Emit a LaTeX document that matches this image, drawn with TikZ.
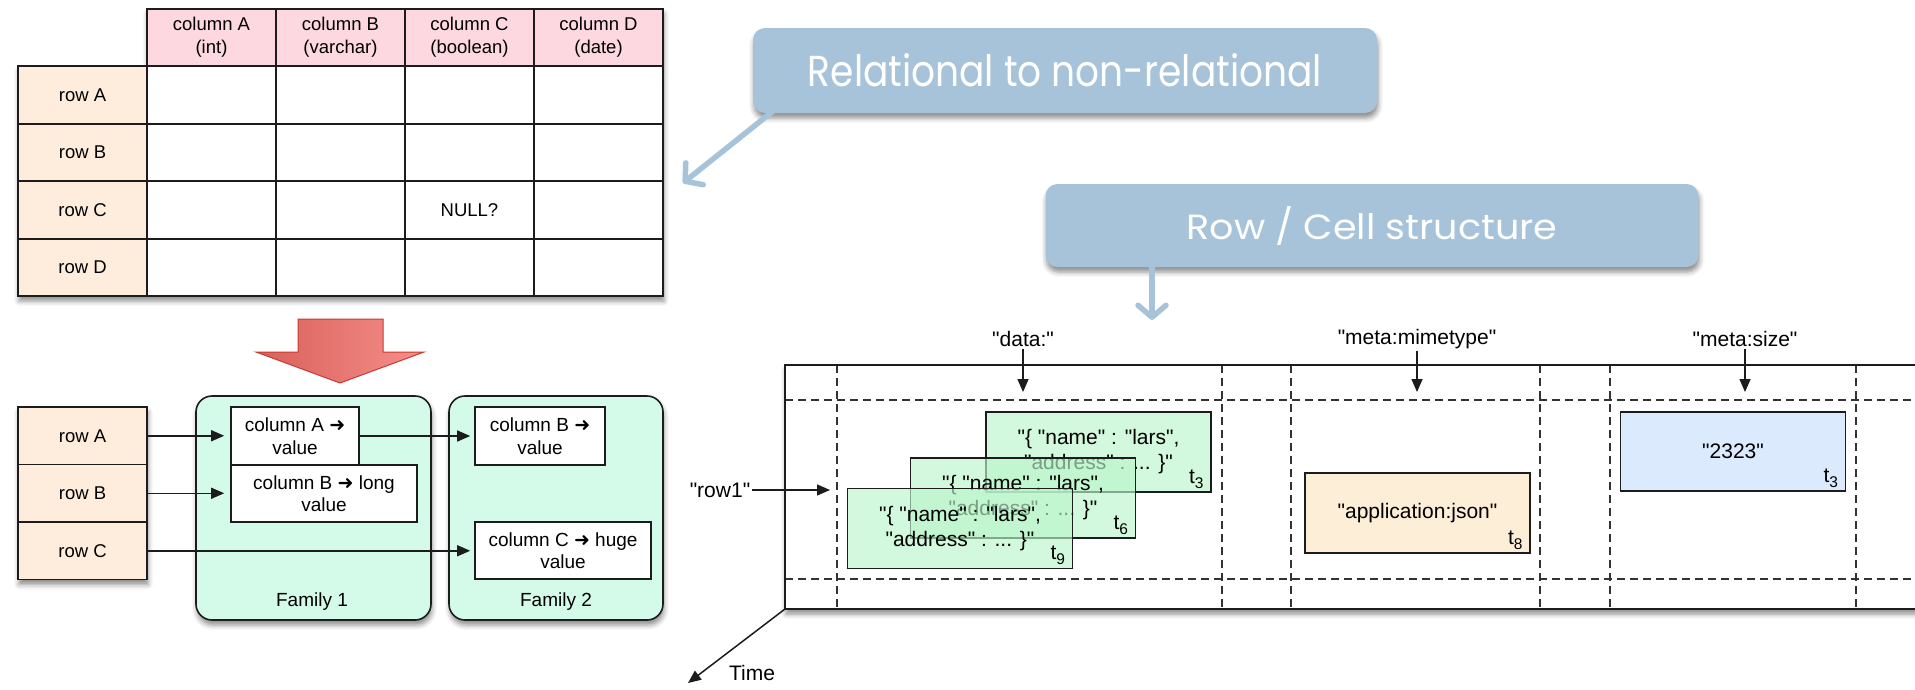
\documentclass[tikz,border=0pt]{standalone}
\usepackage{fontspec}
\setmainfont{Liberation Sans}
% a family without the TeX mapping keeps " as a straight quote
\newfontfamily\basefont{Liberation Sans}
\newfontfamily\titlefont{Poppins}
\newfontfamily\symfont{DejaVu Sans}
\usetikzlibrary{arrows.meta,shadows.blur,calc}

\definecolor{ink}{RGB}{28,28,28}
\definecolor{hdrpink}{RGB}{253,216,224}
\definecolor{rowpeach}{RGB}{254,237,220}
\definecolor{mint}{RGB}{212,251,233}
\definecolor{titleblue}{RGB}{166,195,218}
\definecolor{cardgreen}{RGB}{186,245,203}
\definecolor{jsonpeach}{RGB}{253,238,216}
\definecolor{sizeblue}{RGB}{219,234,252}
\definecolor{redL}{RGB}{216,96,90}
\definecolor{redR}{RGB}{246,142,138}
\definecolor{redE}{RGB}{200,58,48}

\newcommand{\tablefont}{\basefont\fontsize{18.5}{23}\selectfont}
\newcommand{\famfont}{\basefont\fontsize{19}{22.5}\selectfont}
\newcommand{\cellfont}{\basefont\fontsize{21}{25}\selectfont}
\newcommand{\subfont}{\basefont\fontsize{15.5}{15.5}\selectfont}
\newcommand{\maps}{{\symfont\bfseries ➜}}
\newcommand{\tsub}[1]{t\raisebox{-0.45ex}{\subfont #1}}
\newcommand{\json}{"\{ "name" : "lars",\\"address" : ... \}"}

\tikzset{
  softshadow/.style={blur shadow={shadow xshift=1pt, shadow yshift=-5pt,
      shadow blur radius=5pt, shadow opacity=45}},
  cellbase/.style={draw=ink, line width=1.6pt, inner sep=0pt, align=center,
      font=\tablefont},
  hdrcell/.style={cellbase, fill=hdrpink, minimum width=129pt, minimum height=57pt},
  rowcell/.style={cellbase, fill=rowpeach, minimum width=129pt, minimum height=57.5pt},
  bodycell/.style={cellbase, fill=white, minimum width=129pt, minimum height=57.5pt},
  family/.style={draw=ink, line width=1.6pt, fill=mint, rounded corners=16pt,
      softshadow, inner sep=0pt},
  kvbox/.style={draw=ink, line width=1.6pt, fill=white, inner sep=0pt,
      align=center, font=\famfont},
  ptr/.style={draw=ink, line width=1.5pt, -{Triangle[length=13pt,width=11pt]}},
  titlebox/.style={fill=titleblue, rounded corners=12pt, text=white,
      inner sep=0pt, softshadow},
  titlearrow/.style={draw=titleblue, line width=5.5pt, line cap=round,
      -{Straight Barb[length=12pt,width=28pt,line cap=round,line join=round]}},
  frameline/.style={draw=ink, line width=1.8pt},
  dashline/.style={draw=ink!90, line width=1.5pt, dash pattern=on 8pt off 5pt},
  card/.style={draw=ink, line width=1.5pt, fill=cardgreen, fill opacity=0.65,
      text opacity=1, minimum width=225pt, minimum height=80pt, inner sep=0pt,
      align=center, font=\cellfont},
  valbox/.style={draw=ink, line width=1.5pt, minimum width=225pt,
      minimum height=80pt, inner sep=0pt, font=\cellfont},
  stamp/.style={anchor=south east, inner sep=0pt, font=\cellfont},
  keylabel/.style={font=\cellfont, inner sep=2pt},
}

\begin{document}
\begin{tikzpicture}[x=1pt, y=-1pt]
\useasboundingbox (0,0) rectangle (1915,689);
\clip (0,0) rectangle (1915,689);

% ---------- relational table ----------
\path[fill=white, softshadow] (147,9) -- (663,9) -- (663,296) -- (18,296)
  -- (18,66) -- (147,66) -- cycle;
\node[hdrcell] (hA) at (211.5,37.5) {column A\\(int)};
\node[hdrcell] (hB) at (340.5,37.5) {column B\\(varchar)};
\node[hdrcell] (hC) at (469.5,37.5) {column C\\(boolean)};
\node[hdrcell] (hD) at (598.5,37.5) {column D\\(date)};
\node[rowcell] (rA) at (82.5,95)    {row A};
\node[rowcell] (rB) at (82.5,152.5) {row B};
\node[rowcell] (rC) at (82.5,210)   {row C};
\node[rowcell] (rD) at (82.5,267.5) {row D};
\foreach \c/\x in {1/211.5,2/340.5,3/469.5,4/598.5}
  \foreach \r/\y in {1/95,2/152.5,3/210,4/267.5}
    \node[bodycell] (b\r\c) at (\x,\y) {};
\node[font=\tablefont] (nullq) at (b33.center) {NULL?};

% ---------- transformation arrow ----------
\path[left color=redL, right color=redR, draw=redE, line width=1pt,
      line join=miter]
  (298,319) -- (383,319) -- (383,352) -- (424,352) -- (340,383)
  -- (256,352) -- (298,352) -- cycle;

% ---------- column families ----------
\path[fill=white, softshadow] (18,407) rectangle (147,579.5);
\node[rowcell] (lrA) at (82.5,435.75) {row A};
\node[rowcell] (lrB) at (82.5,493.25) {row B};
\node[rowcell] (lrC) at (82.5,550.75) {row C};

\node[family, minimum width=235pt, minimum height=224pt] (fam1) at (313.5,508) {};
\node[family, minimum width=214pt, minimum height=224pt] (fam2) at (556,508) {};
\node[font=\famfont] (fam1lbl) at (312,602) {Family 1};
\node[font=\famfont] (fam2lbl) at (556,602) {Family 2};

\node[kvbox, minimum width=128pt, minimum height=58pt] (fA) at (295,436)
  {column A \maps\\value};
\node[kvbox, minimum width=186pt, minimum height=57pt] (fB) at (324,493.5)
  {column B \maps{} long\\value};
\node[kvbox, minimum width=130pt, minimum height=58pt] (gB) at (540,436)
  {column B \maps\\value};
\node[kvbox, minimum width=176pt, minimum height=57pt] (gC) at (563,550.75)
  {column C \maps{} huge\\value};

\draw[ptr, shorten >=6pt] (lrA.east) -- (lrA.east -| fA.west);
\draw[ptr, shorten >=6pt] (lrB.east) -- (lrB.east -| fB.west);
\draw[ptr, shorten >=4pt] (lrC.east) -- (lrC.east -| gC.west);
\draw[ptr, shorten >=4pt] (fA.east) -- (fA.east -| gB.west);

% ---------- callouts ----------
\node[titlebox, minimum width=624pt, minimum height=85pt] (rel) at (1065,70.5)
  {\resizebox{514pt}{33pt}{\titlefont Relational to non-relational}};
\node[titlebox, minimum width=653pt, minimum height=83pt] (rcs) at (1372,225.5)
  {\resizebox{371pt}{33pt}{\titlefont Row / Cell structure}};
\coordinate (relTip) at (683,183);
\coordinate (rcsTip) at (1152,320);
\draw[titlearrow] ($(rel.south west)+(20,-2)$) -- (relTip);
\draw[titlearrow] ($(rcs.south west -| rcsTip)+(0,-2)$) -- (rcsTip);

% ---------- row / cell frame ----------
\path[fill=white, softshadow] (785,365) rectangle (1940,609);
\foreach \y in {400,579}
  \draw[dashline] (785,\y) -- (1940,\y);
\foreach \x in {837,1222,1291,1540,1610,1856}
  \draw[dashline] (\x,365) -- (\x,609);
\draw[frameline] (1940,365) -- (785,365) -- (785,609) -- (1940,609);
\coordinate (origin) at (785,609);

% column keys
\node[keylabel] (kData) at (1023,339) {"data:"};
\node[keylabel] (kMime) at (1417,339) {"meta:mimetype"};
\node[keylabel] (kSize) at (1745,339) {"meta:size"};
\coordinate (kDataTip) at (1023,392);
\coordinate (kMimeTip) at (1417,392);
\coordinate (kSizeTip) at (1745,392);
\draw[ptr] (kData.south) -- (kDataTip);
\draw[ptr] (kMime.south) -- (kMimeTip);
\draw[ptr] (kSize.south) -- (kSizeTip);

% row key
\node[keylabel] (kRow) at (720,490) {"row1"};
\coordinate (kRowTip) at (830,490);
\draw[ptr] (kRow.east) -- (kRowTip);

% time axis
\coordinate (timeTip) at (688,683);
\draw[ptr] (origin) -- (timeTip);
\node[keylabel] (timeLbl) at (752,673) {Time};

% versioned cells of "data:"
\node[card] (c3) at (1098.5,452) {\json};
\node[stamp] (c3t) at ($(c3.south east)+(-8,-4)$) {\tsub{3}};
\node[card] (c6) at (1023,498) {\json};
\node[stamp] (c6t) at ($(c6.south east)+(-8,-4)$) {\tsub{6}};
\node[card] (c9) at (960,528.5) {\json};
\node[stamp] (c9t) at ($(c9.south east)+(-8,-4)$) {\tsub{9}};

% other cells
\node[valbox, fill=jsonpeach] (mime) at (1417.5,513) {"application:json"};
\node[stamp] (mimet) at ($(mime.south east)+(-8,-4)$) {\tsub{8}};
\node[valbox, fill=sizeblue, minimum height=79pt] (size) at (1733,451.5) {"2323"};
\node[stamp] (sizet) at ($(size.south east)+(-8,-4)$) {\tsub{3}};
\end{tikzpicture}
\end{document}
